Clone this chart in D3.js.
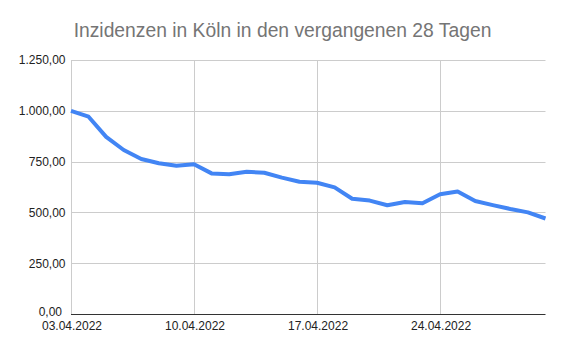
<!DOCTYPE html>
<html><head><meta charset="utf-8">
<script src="https://cdn.jsdelivr.net/npm/d3@7"></script>
<style>body{margin:0;background:#fff}svg{display:block}text{font-family:"Liberation Sans",Arial,sans-serif}</style>
</head><body>
<svg id="c" width="564" height="352"></svg>
<script>
const title = "Inzidenzen in Köln in den vergangenen 28 Tagen";
const startDate = "2022-04-03";
const values = [1000,971,872,807,763,742,730,737,692,688,700,695,671,651,646,623,567,558,535,551,545,589,603,556,536,517,500,470];
const yTicks = [0,250,500,750,1000,1250];
const xTickLabels = ["03.04.2022","10.04.2022","17.04.2022","24.04.2022"];
const xTickDays = [0,7,14,21];

const svg = d3.select("#c");
const x = d3.scaleLinear().domain([0, values.length-1]).range([71, 545.5]);
const y = d3.scaleLinear().domain([0,1250]).range([314, 60]);
const fmt = v => { const s = d3.format(",.2f")(v); return s.replace(/,/g,"#").replace(".",",").replace(/#/g,"."); };

svg.append("text").attr("x",282.5).attr("y",36.5).attr("text-anchor","middle")
  .attr("font-size",19.3).attr("fill","#757575").text(title);

// horizontal gridlines
svg.append("g").selectAll("line").data(yTicks.filter(d=>d>0)).join("line")
  .attr("x1",71).attr("x2",545.5).attr("y1",d=>Math.round(y(d))+0.5).attr("y2",d=>Math.round(y(d))+0.5)
  .attr("stroke","#cccccc").attr("stroke-width",1);
// vertical gridlines
svg.append("g").selectAll("line").data(xTickDays).join("line")
  .attr("x1",d=>Math.round(x(d))+0.5).attr("x2",d=>Math.round(x(d))+0.5).attr("y1",60).attr("y2",314)
  .attr("stroke","#cccccc").attr("stroke-width",1);

// y labels
svg.append("g").selectAll("text").data(yTicks).join("text")
  .attr("x",d=>d===0?62:65.5).attr("y",d=>d===0?y(d)+1.5:y(d)+4.3)
  .attr("text-anchor","end").attr("font-size",12).attr("fill","#222").text(fmt);

// x labels
svg.append("g").selectAll("text").data(xTickDays).join("text")
  .attr("x",d=>x(d)+1).attr("y",330).attr("text-anchor","middle")
  .attr("font-size",12).attr("fill","#222").text((d,i)=>xTickLabels[i]);

// line
svg.append("path").datum(values)
  .attr("d", d3.line().x((d,i)=>x(i)).y(d=>y(d)))
  .attr("fill","none").attr("stroke","#4285f4").attr("stroke-width",4).attr("stroke-linejoin","round");

// baseline
svg.append("line").attr("x1",71).attr("x2",545.5).attr("y1",314.5).attr("y2",314.5)
  .attr("stroke","#333").attr("stroke-width",1);
</script>
</body></html>
